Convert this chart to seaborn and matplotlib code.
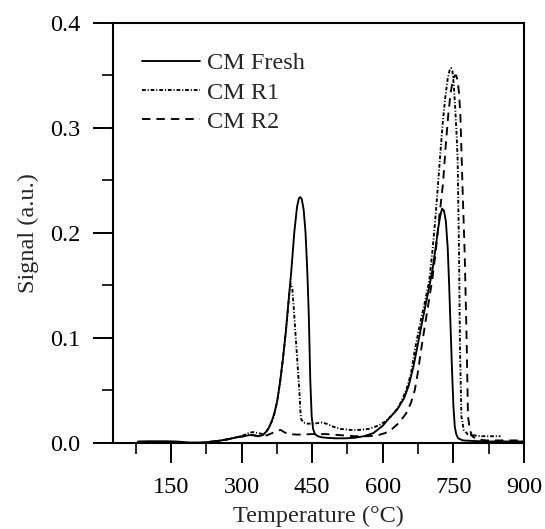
import matplotlib
matplotlib.use('Agg')
import numpy as np
import pandas as pd
import matplotlib.pyplot as plt
import seaborn as sns
from matplotlib.ticker import MultipleLocator, FormatStrFormatter

# ---- data ----
fresh_T = [80, 100, 120, 140, 160, 175, 190, 210, 230, 250, 270, 290, 305, 315, 325, 335, 345,
           352, 358, 364, 370, 376, 382, 388, 394, 400, 406, 412, 418, 422, 425, 428, 432, 436,
           440, 443, 446, 449, 452, 456, 462, 470, 480, 500, 520, 540, 560, 580, 600, 615, 630,
           645, 655, 665, 675, 685, 695, 705, 712, 718, 722, 726, 730, 734, 738, 741, 744, 747,
           750, 753, 756, 760, 770, 790, 820, 860, 900]
fresh_S = [0.001, 0.0012, 0.0012, 0.0012, 0.001, 0.0005, 0.0, 0.0, 0.0005, 0.0015, 0.003, 0.005,
           0.006, 0.007, 0.007, 0.006, 0.007, 0.010, 0.014, 0.020, 0.028, 0.040, 0.058, 0.080,
           0.105, 0.135, 0.165, 0.200, 0.225, 0.233, 0.234, 0.232, 0.222, 0.200, 0.160, 0.120,
           0.060, 0.025, 0.013, 0.008, 0.006, 0.005, 0.0045, 0.004, 0.004, 0.0045, 0.006, 0.009,
           0.016, 0.024, 0.031, 0.042, 0.054, 0.072, 0.095, 0.118, 0.140, 0.163, 0.185, 0.205,
           0.216, 0.223, 0.221, 0.211, 0.185, 0.150, 0.110, 0.070, 0.035, 0.015, 0.008, 0.004,
           0.002, 0.0015, 0.001, 0.001, 0.001]

r1_T = [230, 250, 270, 290, 305, 315, 325, 335, 345, 352, 358, 364, 370, 376, 382, 388, 394, 400,
        403, 405, 408, 411, 414, 417, 420, 423, 425, 427, 432, 440, 455, 470, 480, 495, 510, 530,
        550, 570, 590, 605, 620, 635, 650, 660, 668, 680, 690, 699, 706, 712, 718, 723, 728, 733,
        738, 742, 745, 748, 751, 754, 757, 759, 762, 764, 767, 772, 780, 790, 810, 830, 850]
r1_S = [0.0005, 0.0015, 0.003, 0.005, 0.007, 0.009, 0.010, 0.009, 0.008, 0.010, 0.014, 0.020,
        0.028, 0.040, 0.058, 0.080, 0.105, 0.135, 0.149, 0.151, 0.146, 0.128, 0.108, 0.088,
        0.068, 0.048, 0.030, 0.022, 0.019, 0.018, 0.018, 0.019, 0.018, 0.015, 0.013, 0.012,
        0.012, 0.013, 0.016, 0.020, 0.026, 0.035, 0.050, 0.066, 0.088, 0.115, 0.135, 0.155,
        0.185, 0.215, 0.250, 0.280, 0.308, 0.330, 0.347, 0.355, 0.357, 0.354, 0.340, 0.318,
        0.292, 0.270, 0.180, 0.090, 0.025, 0.012, 0.008, 0.007, 0.006, 0.006, 0.006]

r2_T = [230, 250, 270, 290, 305, 315, 325, 335, 345, 355, 365, 375, 383, 390, 400, 420, 450, 480,
        510, 540, 570, 590, 605, 620, 635, 650, 660, 668, 675, 682, 690, 698, 705, 712, 720, 728,
        734, 739, 744, 749, 753, 756, 759, 762, 765, 767, 770, 774, 778, 781, 785, 790, 800, 820,
        850, 880, 900]
r2_S = [0.0005, 0.0015, 0.003, 0.005, 0.006, 0.007, 0.007, 0.006, 0.006, 0.007, 0.009, 0.011,
        0.012, 0.010, 0.008, 0.0075, 0.008, 0.008, 0.007, 0.006, 0.006, 0.007, 0.009, 0.013,
        0.019, 0.028, 0.038, 0.050, 0.068, 0.090, 0.113, 0.135, 0.155, 0.180, 0.215, 0.247,
        0.285, 0.312, 0.333, 0.346, 0.350, 0.350, 0.345, 0.333, 0.310, 0.280, 0.235, 0.180,
        0.100, 0.025, 0.012, 0.006, 0.003, 0.002, 0.002, 0.002, 0.002]

labels = ['CM Fresh', 'CM R1', 'CM R2']

df = pd.concat([
    pd.DataFrame({'T': fresh_T, 'S': fresh_S, 'Sample': labels[0]}),
    pd.DataFrame({'T': r1_T, 'S': r1_S, 'Sample': labels[1]}),
    pd.DataFrame({'T': r2_T, 'S': r2_S, 'Sample': labels[2]}),
], ignore_index=True)

sns.set_style('ticks')
plt.rcParams['font.family'] = ['Liberation Serif', 'DejaVu Serif']
FS = 17.5

fig = plt.figure(figsize=(5.45, 5.29), dpi=100)
ax = fig.add_axes([0.2073, 0.1635, 0.7542, 0.793])

dashes = {labels[0]: '', labels[1]: (2.0, 1.0, 0.6, 1.0), labels[2]: (4.5, 3.2)}
sns.lineplot(data=df, x='T', y='S', style='Sample', style_order=labels, dashes=dashes,
             color='black', lw=1.35, estimator=None, sort=False, ax=ax)

ax.set_xlim(27, 900)
ax.set_ylim(0, 0.4)
ax.xaxis.set_major_locator(MultipleLocator(150))
ax.xaxis.set_minor_locator(MultipleLocator(75))
ax.yaxis.set_major_locator(MultipleLocator(0.1))
ax.yaxis.set_minor_locator(MultipleLocator(0.05))
ax.yaxis.set_major_formatter(FormatStrFormatter('%.1f'))

ax.tick_params(which='major', direction='out', length=14.4, width=1.4, labelsize=FS,
               colors='black', top=False, right=False)
ax.tick_params(axis='x', which='major', pad=10.5)
ax.tick_params(axis='y', which='major', pad=9)
ax.tick_params(which='minor', direction='out', length=7.8, width=1.4, top=False, right=False)
for s in ax.spines.values():
    s.set_visible(True)
    s.set_linewidth(1.5)
    s.set_color('black')

ax.set_xlabel('Temperature (°C)', fontsize=FS, labelpad=5.5)
ax.set_ylabel('Signal (a.u.)', fontsize=FS, labelpad=8)

handles, labs = ax.get_legend_handles_labels()
ax.legend(handles, labs, loc='upper left', bbox_to_anchor=(0.07, 0.93), frameon=False,
          fontsize=FS, handlelength=2.4, handletextpad=0.3, labelspacing=0.3,
          borderaxespad=0, borderpad=0)

fig.savefig('out.png', dpi=100)
